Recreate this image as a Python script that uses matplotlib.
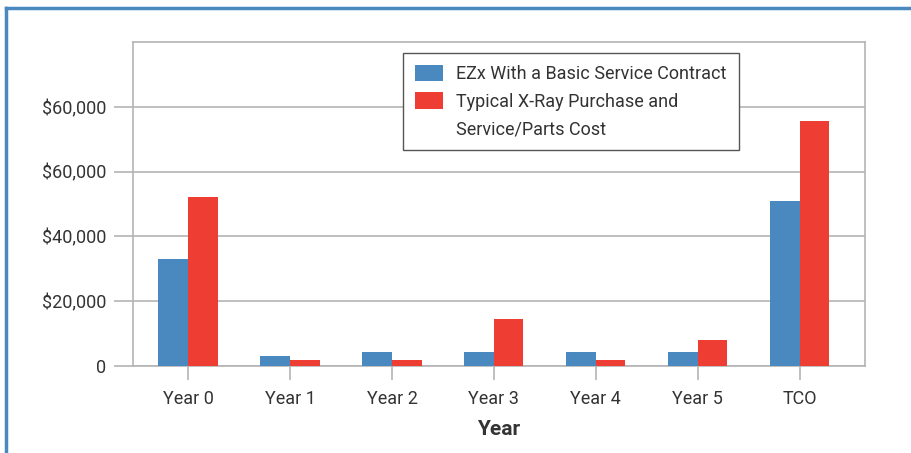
import matplotlib.pyplot as plt
import matplotlib.lines as mlines
import matplotlib.patches as mpatches
import numpy as np

plt.rcParams['font.family'] = ['Roboto', 'DejaVu Sans']

# Data
categories = ['Year 0', 'Year 1', 'Year 2', 'Year 3', 'Year 4', 'Year 5', 'TCO']
ezxValues = [33000, 3100, 4300, 4300, 4300, 4300, 51000]
typicalValues = [52300, 1850, 1850, 14500, 1850, 8000, 75700]
yTicks = [0, 20000, 40000, 60000, 80000]
yTickLabels = ['0', '$20,000', '$40,000', '$60,000', '$60,000']
ezxLabel = 'EZx With a Basic Service Contract'
typicalLabel = ['Typical X-Ray Purchase and', 'Service/Parts Cost']

blue = '#4a89c0'
red = '#ee3d33'
gridGray = '#b4b4b4'
textGray = '#333333'

fig = plt.figure(figsize=(9.12, 4.53), dpi=100)
ax = fig.add_axes([133 / 912, 1 - 366 / 453, (865 - 133) / 912, (366 - 42) / 453])

x = np.arange(len(categories))
barW = 0.29
barsEzx = ax.bar(x - barW / 2, ezxValues, barW, color=blue, zorder=3)
barsTyp = ax.bar(x + barW / 2, typicalValues, barW, color=red, zorder=3)

ax.set_xlim(-0.54, 6.64)
ax.set_ylim(0, 100000)
ax.set_yticks(yTicks)
ax.set_yticklabels(yTickLabels)
ax.set_xticks(x)
ax.set_xticklabels(categories)
ax.yaxis.grid(True, color=gridGray, linewidth=1.2, zorder=0)
ax.tick_params(axis='y', length=14, color=gridGray, width=1.2, labelsize=13, labelcolor=textGray, pad=5)
ax.tick_params(axis='x', length=10, color=gridGray, width=1.2, labelsize=13, labelcolor=textGray, pad=7)
for s in ax.spines.values():
    s.set_color(gridGray)
    s.set_linewidth(1.2)

ax.set_xlabel('Year', fontsize=15, fontweight='bold', color=textGray, labelpad=9)

# Legend: the red swatch sits on the first line of its two-line label
blank = mpatches.Patch(color='none')
leg = ax.legend([barsEzx, barsTyp, blank], [ezxLabel] + typicalLabel,
                loc='upper left', bbox_to_anchor=((403 - 133) / 732, (366 - 53) / 324), borderaxespad=0,
                fontsize=13, frameon=True, fancybox=False, borderpad=0.65, framealpha=1,
                handlelength=1.55, handleheight=1.0, handletextpad=0.75, labelspacing=0.52)
leg.get_frame().set_edgecolor('#555555')
leg.get_frame().set_linewidth(1.0)
for t in leg.get_texts():
    t.set_color(textGray)

# Blue frame lines along the top and left of the figure
fig.add_artist(mlines.Line2D([6 / 912, 1], [1 - 8 / 453, 1 - 8 / 453], color='#4a89c0', linewidth=2.5,
                             transform=fig.transFigure))
fig.add_artist(mlines.Line2D([6 / 912, 6 / 912], [0, 1 - 8 / 453], color='#4a89c0', linewidth=2.5,
                             transform=fig.transFigure))

fig.savefig('out.png', dpi=100)
